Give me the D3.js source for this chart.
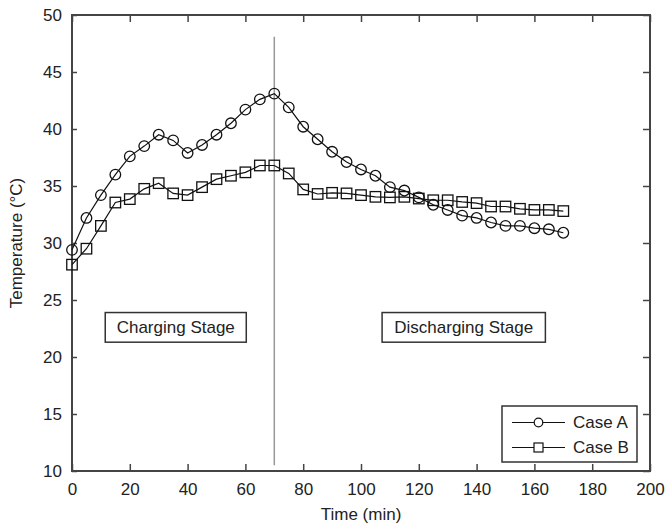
<!DOCTYPE html>
<html>
<head>
<meta charset="utf-8">
<script src="https://cdn.jsdelivr.net/npm/d3@7"></script>
<style>
  body { margin: 0; background: #fff; }
  text { font-family: "Liberation Sans", Arial, sans-serif; fill: #222; }
</style>
</head>
<body>
<div id="chart"></div>
<script>
"use strict";

// time (min), one reading every 5 minutes
var times = [0, 5, 10, 15, 20, 25, 30, 35, 40, 45, 50, 55, 60, 65, 70, 75, 80, 85,
  90, 95, 100, 105, 110, 115, 120, 125, 130, 135, 140, 145, 150, 155, 160, 165, 170];

var caseA = [29.4, 32.2, 34.2, 36.0, 37.6, 38.5, 39.5, 39.0, 37.9, 38.6, 39.5, 40.5,
  41.7, 42.6, 43.1, 41.9, 40.2, 39.1, 38.0, 37.1, 36.45, 35.9, 34.9, 34.6, 34.0,
  33.35, 32.9, 32.4, 32.2, 31.8, 31.5, 31.5, 31.3, 31.2, 30.9];

var caseB = [28.1, 29.5, 31.5, 33.55, 33.85, 34.75, 35.25, 34.35, 34.2, 34.9, 35.6,
  35.9, 36.2, 36.8, 36.8, 36.1, 34.7, 34.3, 34.4, 34.35, 34.2, 34.05, 34.0, 34.05,
  33.9, 33.75, 33.75, 33.6, 33.5, 33.2, 33.2, 33.0, 32.9, 32.9, 32.8];

var xTicks = [0, 20, 40, 60, 80, 100, 120, 140, 160, 180, 200];
var yTicks = [10, 15, 20, 25, 30, 35, 40, 45, 50];
var seriesNames = ["Case A", "Case B"];
var stageLabels = ["Charging Stage", "Discharging Stage"];
var switchTime = 70;

var W = 665, H = 528;
var margin = {left: 72, top: 15, right: 15, bottom: 57};
var w = W - margin.left - margin.right;
var h = H - margin.top - margin.bottom;

var svg = d3.select("#chart").append("svg")
  .attr("width", W)
  .attr("height", H);

var g = svg.append("g")
  .attr("transform", "translate(" + margin.left + "," + margin.top + ")");

var x = d3.scaleLinear().domain([0, 200]).range([0, w]);
var y = d3.scaleLinear().domain([10, 50]).range([h, 0]);

var axisColor = "#444";

// axes with inward ticks on all four sides
function styleAxis(sel) {
  sel.select(".domain").remove();
  sel.selectAll(".tick line").attr("stroke", axisColor).attr("stroke-width", 1.5);
  sel.selectAll("text").attr("font-size", 17).style("fill", "#222");
}

g.append("g")
  .attr("transform", "translate(0," + h + ")")
  .call(d3.axisBottom(x).tickValues(xTicks).tickSize(-7).tickPadding(12))
  .call(styleAxis);

g.append("g")
  .call(d3.axisTop(x).tickValues(xTicks).tickSize(-7).tickFormat(""))
  .call(styleAxis);

g.append("g")
  .call(d3.axisLeft(y).tickValues(yTicks).tickSize(-5).tickPadding(10))
  .call(styleAxis);

g.append("g")
  .attr("transform", "translate(" + w + ",0)")
  .call(d3.axisRight(y).tickValues(yTicks).tickSize(-7).tickFormat(""))
  .call(styleAxis);

g.append("rect")
  .attr("width", w)
  .attr("height", h)
  .attr("fill", "none")
  .attr("stroke", axisColor)
  .attr("stroke-width", 2);

// end of charging
g.append("line")
  .attr("x1", x(switchTime)).attr("x2", x(switchTime))
  .attr("y1", y(48.1)).attr("y2", y(10.5))
  .attr("stroke", "#999")
  .attr("stroke-width", 1.5);

// stage boxes
var stages = [
  {label: stageLabels[0], x0: 11.5, x1: 60.3},
  {label: stageLabels[1], x0: 107.3, x1: 163.8}
];
stages.forEach(function(s) {
  g.append("rect")
    .attr("x", x(s.x0)).attr("y", y(23.9))
    .attr("width", x(s.x1) - x(s.x0))
    .attr("height", y(21.3) - y(23.9))
    .attr("fill", "#fff")
    .attr("stroke", "#333")
    .attr("stroke-width", 1.5);
  g.append("text")
    .attr("x", (x(s.x0) + x(s.x1)) / 2)
    .attr("y", (y(23.9) + y(21.3)) / 2)
    .attr("dy", "0.35em")
    .attr("text-anchor", "middle")
    .attr("font-size", 17)
    .text(s.label);
});

// series
var line = d3.line()
  .x(function(d) { return x(d.t); })
  .y(function(d) { return y(d.v); });

function toPoints(vals) {
  return times.map(function(t, i) { return {t: t, v: vals[i]}; });
}

var ptsA = toPoints(caseA);
var ptsB = toPoints(caseB);

[ptsA, ptsB].forEach(function(pts) {
  g.append("path")
    .datum(pts)
    .attr("d", line)
    .attr("fill", "none")
    .attr("stroke", "#111")
    .attr("stroke-width", 1.2);
});

g.selectAll("circle.a")
  .data(ptsA)
  .enter()
    .append("circle")
      .attr("class", "a")
      .attr("cx", function(d) { return x(d.t); })
      .attr("cy", function(d) { return y(d.v); })
      .attr("r", 5.3)
      .attr("fill", "none")
      .attr("stroke", "#111")
      .attr("stroke-width", 1.3);

var sq = 10.5;
g.selectAll("rect.b")
  .data(ptsB)
  .enter()
    .append("rect")
      .attr("class", "b")
      .attr("x", function(d) { return x(d.t) - sq / 2; })
      .attr("y", function(d) { return y(d.v) - sq / 2; })
      .attr("width", sq)
      .attr("height", sq)
      .attr("fill", "none")
      .attr("stroke", "#111")
      .attr("stroke-width", 1.3);

// legend
var lg = g.append("g")
  .attr("transform", "translate(" + (502 - margin.left) + "," + (406 - margin.top) + ")");

lg.append("rect")
  .attr("width", 135)
  .attr("height", 56)
  .attr("fill", "#fff")
  .attr("stroke", "#333")
  .attr("stroke-width", 1.5);

seriesNames.forEach(function(name, i) {
  var ly = 16.5 + i * 25;
  lg.append("line")
    .attr("x1", 10).attr("x2", 63)
    .attr("y1", ly).attr("y2", ly)
    .attr("stroke", "#111")
    .attr("stroke-width", 1.2);
  if (i === 0) {
    lg.append("circle")
      .attr("cx", 36.5).attr("cy", ly).attr("r", 4.3)
      .attr("fill", "#fff").attr("stroke", "#111").attr("stroke-width", 1.2);
  } else {
    lg.append("rect")
      .attr("x", 36.5 - 4.5).attr("y", ly - 4.5)
      .attr("width", 9).attr("height", 9)
      .attr("fill", "#fff").attr("stroke", "#111").attr("stroke-width", 1.2);
  }
  lg.append("text")
    .attr("x", 71)
    .attr("y", ly)
    .attr("dy", "0.35em")
    .attr("font-size", 17)
    .text(name);
});

// axis titles
svg.append("text")
  .attr("x", margin.left + x(100))
  .attr("y", 520)
  .attr("text-anchor", "middle")
  .attr("font-size", 17)
  .text("Time (min)");

svg.append("text")
  .attr("transform", "translate(22," + (margin.top + h / 2) + ") rotate(-90)")
  .attr("text-anchor", "middle")
  .attr("font-size", 17)
  .text("Temperature (°C)");
</script>
</body>
</html>
